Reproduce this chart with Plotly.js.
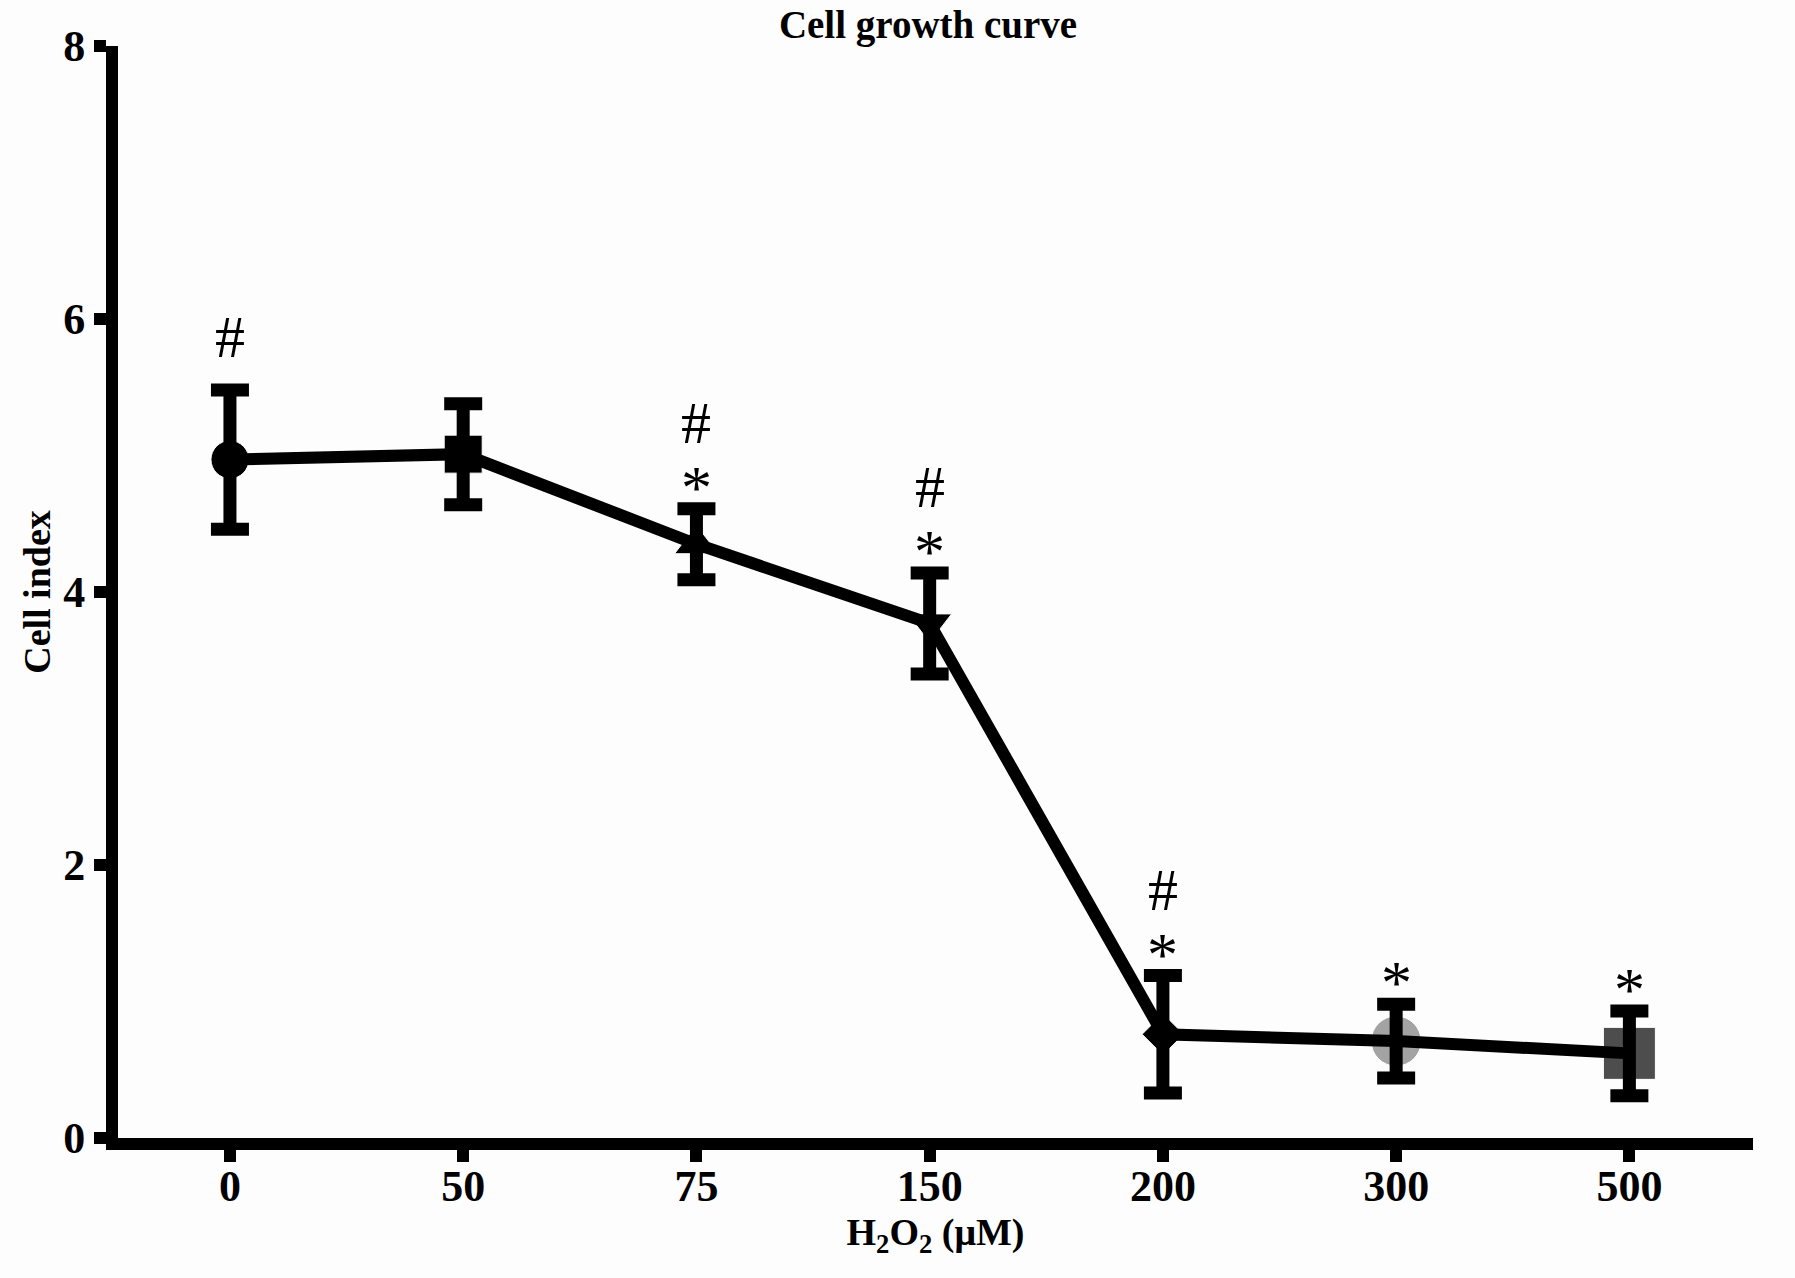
<!DOCTYPE html>
<html>
<head>
<meta charset="utf-8">
<script src="https://cdn.plot.ly/plotly-3.0.1.min.js"></script>
<style>
  body { margin: 0; background: #fdfdfd; }
  #chart { width: 1795px; height: 1278px; }
</style>
</head>
<body>
<div id="chart"></div>
<script>
var doses = ['0', '50', '75', '150', '200', '300', '500'];
var cellIndex = [4.97, 5.01, 4.35, 3.77, 0.76, 0.71, 0.62];
var cellErr = [0.51, 0.37, 0.26, 0.37, 0.43, 0.27, 0.31];
var symbols = ['circle', 'square', 'triangle-up', 'triangle-down', 'diamond', 'circle', 'square'];
var markerColors = ['#000000', '#000000', '#000000', '#000000', '#000000', '#a3a3a3', '#4d4d4d'];
var markerSizes = [38, 38, 38, 38, 32, 50, 52];
var hashMarks = ['#', '', '#', '#', '#', '', ''];
var starMarks = ['', '', '*', '*', '*', '*', '*'];

var serif = 'Liberation Serif, Times New Roman, serif';

var markers = {
    x: doses,
    y: cellIndex,
    type: 'scatter',
    mode: 'markers',
    marker: {
      symbol: symbols,
      color: markerColors,
      size: markerSizes,
      opacity: 1
    },
    showlegend: false
};

var line = {
    x: doses,
    y: cellIndex,
    type: 'scatter',
    mode: 'lines',
    line: {
      color: '#000000',
      width: 12
    },
    error_y: {
      type: 'data',
      array: cellErr,
      visible: true,
      color: '#000000',
      thickness: 13,
      width: 19
    },
    showlegend: false
};

// significance marks sit above each error bar (x = category index)
var annotations = [];
doses.forEach(function (d, i) {
    var top = cellIndex[i] + cellErr[i];
    if (starMarks[i]) {
        annotations.push({
            x: i, y: top, xref: 'x', yref: 'y',
            text: starMarks[i], showarrow: false,
            yanchor: 'bottom', yshift: -14,
            font: { family: serif, size: 62, color: '#000' }
        });
    }
    if (hashMarks[i]) {
        annotations.push({
            x: i, y: top, xref: 'x', yref: 'y',
            text: hashMarks[i], showarrow: false,
            yanchor: 'bottom', yshift: starMarks[i] ? 51 : 18,
            font: { family: serif, size: 60, color: '#000' }
        });
    }
});

var layout = {
    width: 1795,
    height: 1278,
    paper_bgcolor: '#fdfdfd',
    plot_bgcolor: '#fdfdfd',
    margin: { l: 118, r: 42, t: 46, b: 140 },
    font: { family: serif, color: '#000' },
    title: {
      text: 'Cell growth curve',
      font: { family: serif, size: 39, weight: 'bold' },
      x: 0.517, xanchor: 'center',
      y: 0.981, yanchor: 'middle'
    },
    xaxis: {
      type: 'category',
      range: [-0.48, 6.53],
      showline: true,
      linecolor: '#000',
      linewidth: 12,
      ticks: 'outside',
      ticklen: 12,
      tickwidth: 12,
      tickcolor: '#000',
      ticklabelstandoff: -14,
      showgrid: false,
      zeroline: false,
      tickfont: { family: serif, size: 44, weight: 'bold' },
      title: {
        text: 'H<sub>2</sub>O<sub>2</sub> (μM)',
        font: { family: serif, size: 38, weight: 'bold' },
        standoff: 2
      }
    },
    yaxis: {
      range: [0, 8],
      tickvals: [0, 2, 4, 6, 8],
      showline: true,
      linecolor: '#000',
      linewidth: 12,
      ticks: 'outside',
      ticklen: 12,
      tickwidth: 12,
      tickcolor: '#000',
      showgrid: false,
      zeroline: false,
      tickfont: { family: serif, size: 44, weight: 'bold' },
      title: {
        text: 'Cell index',
        font: { family: serif, size: 38, weight: 'bold' },
        standoff: 6
      }
    },
    annotations: annotations
};

Plotly.newPlot('chart', [markers, line], layout, {displayModeBar: false});
</script>
</body>
</html>
